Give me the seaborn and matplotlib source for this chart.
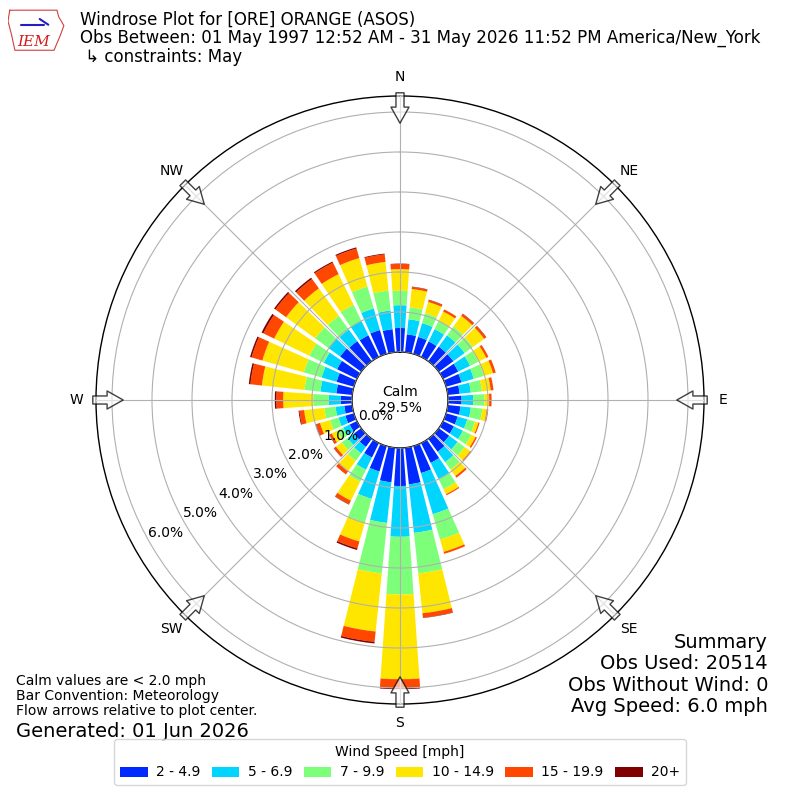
import numpy as np
import matplotlib
matplotlib.use("Agg")
import matplotlib.pyplot as plt
import seaborn as sns

# ---------------------------------------------------------
# Data: percent of observations per direction / speed bin
# ---------------------------------------------------------
directions = np.arange(0, 360, 10)
speed_labels = ["2 - 4.9", "5 - 6.9", "7 - 9.9", "10 - 14.9", "15 - 19.9", "20+"]

spd_2_5 = [0.60, 0.45, 0.44, 0.43, 0.45, 0.45, 0.42, 0.40, 0.30, 0.34, 0.32, 0.30,
           0.30, 0.32, 0.40, 0.55, 0.70, 0.92, 0.95, 0.87, 0.66, 0.40, 0.25, 0.22,
           0.20, 0.22, 0.20, 0.28, 0.40, 0.45, 0.55, 0.65, 0.62, 0.60, 0.62, 0.58]
spd_5_7 = [0.57, 0.38, 0.36, 0.34, 0.35, 0.35, 0.33, 0.32, 0.28, 0.29, 0.26, 0.25,
           0.25, 0.26, 0.32, 0.45, 1.07, 1.22, 1.27, 1.02, 0.71, 0.34, 0.20, 0.20,
           0.18, 0.18, 0.22, 0.30, 0.40, 0.39, 0.37, 0.37, 0.36, 0.40, 0.56, 0.47]
spd_7_10 = [0.36, 0.30, 0.26, 0.24, 0.27, 0.25, 0.23, 0.26, 0.28, 0.28, 0.29, 0.20,
            0.23, 0.22, 0.23, 0.28, 0.66, 1.02, 1.44, 1.27, 0.62, 0.33, 0.23, 0.18,
            0.17, 0.22, 0.28, 0.39, 0.40, 0.46, 0.40, 0.40, 0.42, 0.45, 0.57, 0.50]
spd_10_15 = [0.54, 0.46, 0.29, 0.25, 0.33, 0.35, 0.22, 0.24, 0.22, 0.12, 0.11, 0.09,
             0.12, 0.17, 0.20, 0.14, 0.32, 1.00, 2.12, 1.46, 0.49, 0.53, 0.32, 0.18,
             0.15, 0.26, 0.51, 0.75, 1.07, 1.08, 0.98, 0.90, 0.85, 0.85, 0.74, 0.72]
spd_15_20 = [0.13, 0.05, 0.05, 0.06, 0.06, 0.06, 0.06, 0.07, 0.07, 0.06, 0.04, 0.03,
             0.04, 0.03, 0.05, 0.03, 0.05, 0.11, 0.22, 0.26, 0.18, 0.10, 0.10, 0.06,
             0.06, 0.10, 0.12, 0.17, 0.29, 0.28, 0.30, 0.33, 0.29, 0.32, 0.25, 0.19]
spd_20p = [0.01, 0.01, 0.01, 0.00, 0.01, 0.01, 0.00, 0.00, 0.00, 0.00, 0.00, 0.00,
           0.00, 0.00, 0.00, 0.00, 0.00, 0.01, 0.03, 0.04, 0.04, 0.01, 0.00, 0.01,
           0.01, 0.02, 0.02, 0.04, 0.04, 0.04, 0.05, 0.04, 0.04, 0.03, 0.03, 0.02]
speed_bins = [spd_2_5, spd_5_7, spd_7_10, spd_10_15, spd_15_20, spd_20p]

calm_pct = 29.5
radial_ticks = [0, 1, 2, 3, 4, 5, 6]
compass_angles = [0, 45, 90, 135, 180, 225, 270, 315]
compass_labels = ["N", "NE", "E", "SE", "S", "SW", "W", "NW"]

# ---------------------------------------------------------
# Style
# ---------------------------------------------------------
sns.set_style("white", {"text.color": "black", "xtick.color": "black",
                        "ytick.color": "black", "axes.edgecolor": "black"})
plt.rcParams["font.family"] = ["DejaVu Sans"]
colors = plt.get_cmap("jet")(np.arange(1, 7) / 6.0)

fig = plt.figure(figsize=(8, 8), dpi=100)
ax = fig.add_axes([0.12, 0.12, 0.76, 0.76], projection="polar")
ax.set_theta_zero_location("N")
ax.set_theta_direction(-1)

theta = np.deg2rad(directions)
width = np.deg2rad(8)
bottom = np.zeros(len(directions))
handles = []
for vals, col, lab in zip(speed_bins, colors, speed_labels):
    vals = np.array(vals)
    bars = ax.bar(theta, vals, width=width, bottom=bottom, color=col,
                  linewidth=0, label=lab, zorder=2)
    handles.append(bars)
    bottom = bottom + vals

ax.set_ylim(0, 6.4)
ax.set_rorigin(-1.2)
ax.set_yticks(radial_ticks)
ax.set_yticklabels([f"{t:.1f}%" for t in radial_ticks])
ax.set_rlabel_position(241)
ax.set_thetagrids(compass_angles, compass_labels)
ax.tick_params(axis="x", pad=3.5, labelsize=10)
ax.tick_params(axis="y", labelsize=10)
ax.grid(True, color="#b0b0b0", linewidth=0.8)
ax.set_axisbelow(False)
for sp in ax.spines.values():
    sp.set_color("black")
    sp.set_linewidth(1.0)

ax.text(0.5, 0.5, f"Calm\n{calm_pct:.1f}%", transform=ax.transAxes,
        ha="center", va="center", fontsize=10, zorder=5)

# flow arrows at the compass points
for a in compass_angles:
    ax.annotate("", xy=(np.deg2rad(a), 5.72), xytext=(np.deg2rad(a), 6.48),
                annotation_clip=False,
                arrowprops=dict(arrowstyle="simple,head_length=0.58,head_width=0.65,tail_width=0.29",
                                fc=(1, 1, 1, 0.6), ec=(0, 0, 0, 0.75), lw=1,
                                mutation_scale=20, shrinkA=0, shrinkB=0), zorder=6)

# titles and annotations
fig.text(0.1, 0.987,
         "Windrose Plot for [ORE] ORANGE (ASOS)\n"
         "Obs Between: 01 May 1997 12:52 AM - 31 May 2026 11:52 PM America/New_York\n"
         " \u21b3 constraints: May",
         ha="left", va="top", fontsize=12, linespacing=1.04)
fig.text(0.02, 0.158, "Calm values are < 2.0 mph\nBar Convention: Meteorology\n"
         "Flow arrows relative to plot center.", ha="left", va="top", fontsize=10,
         linespacing=1.12)
fig.text(0.02, 0.098, "Generated: 01 Jun 2026", ha="left", va="top", fontsize=14)
fig.text(0.96, 0.209, "Summary\nObs Used: 20514\nObs Without Wind: 0\nAvg Speed: 6.0 mph",
         ha="right", va="top", fontsize=14, linespacing=1.16)

fig.legend(handles, speed_labels, loc="lower center", bbox_to_anchor=(0.5, 0.01),
           ncol=6, title="Wind Speed [mph]", fontsize=10, title_fontsize=10,
           frameon=True, columnspacing=0.82, handletextpad=0.6)

# simple IEM logo
lax = fig.add_axes([0.01, 0.935, 0.072, 0.055])
lax.set_xlim(0, 1)
lax.set_ylim(0, 1)
lax.axis("off")
lax.plot([0.03, 0.85, 0.88, 0.97, 0.9, 0.85, 0.8, 0.12, 0.06, 0.0, 0.03],
         [0.95, 0.95, 0.8, 0.6, 0.35, 0.2, 0.04, 0.04, 0.4, 0.7, 0.95],
         color="#d04040", lw=0.8)
lax.plot([0.22, 0.62], [0.62, 0.62], color="#2020c0", lw=1.5)
lax.plot([0.55, 0.7], [0.75, 0.62], color="#2020c0", lw=1.5)
lax.text(0.45, 0.22, "IEM", color="#d02020", fontsize=11, family="serif",
         style="italic", ha="center", va="center")

fig.savefig("out.png", dpi=100)
